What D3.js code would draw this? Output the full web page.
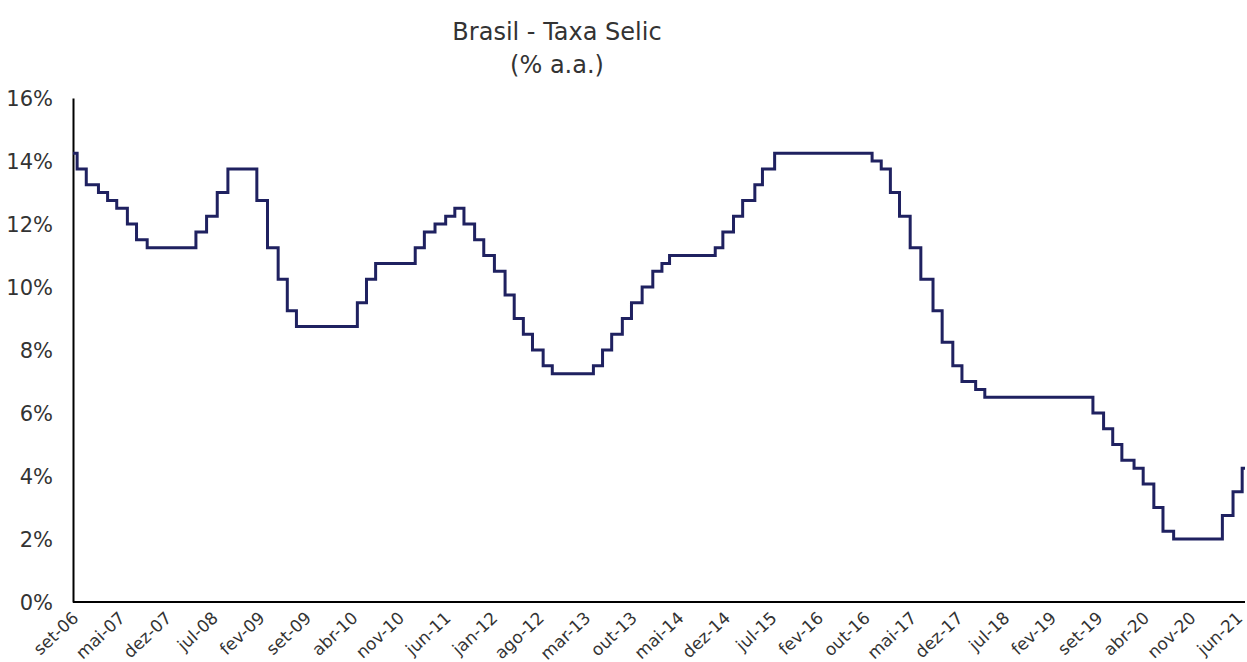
<!DOCTYPE html>
<html>
<head>
<meta charset="utf-8">
<script src="https://cdn.jsdelivr.net/npm/d3@7"></script>
<style>
  html, body { margin: 0; padding: 0; background: #fff; }
  svg text { font-family: "DejaVu Sans", "Lato", sans-serif; fill: #333; }
</style>
</head>
<body>
<div id="chart"></div>
<script>
'use strict';

// ── Data: Selic target changes (date the new rate applies, % a.a.) ──
const changeDates = [
  '2006-09-30', '2006-10-19', '2006-11-30', '2007-01-25', '2007-03-08', '2007-04-19',
  '2007-06-07', '2007-07-19', '2007-09-06', '2008-04-17', '2008-06-05', '2008-07-24',
  '2008-09-11', '2009-01-22', '2009-03-12', '2009-04-30', '2009-06-11', '2009-07-23',
  '2010-04-29', '2010-06-10', '2010-07-22', '2011-01-20', '2011-03-03', '2011-04-21',
  '2011-06-09', '2011-07-21', '2011-09-01', '2011-10-20', '2011-12-01', '2012-01-19',
  '2012-03-08', '2012-04-19', '2012-05-31', '2012-07-12', '2012-08-30', '2012-10-11',
  '2013-04-18', '2013-05-30', '2013-07-11', '2013-08-29', '2013-10-10', '2013-11-28',
  '2014-01-16', '2014-02-27', '2014-04-03', '2014-10-30', '2014-12-04', '2015-01-22',
  '2015-03-05', '2015-04-30', '2015-06-04', '2015-07-30', '2016-10-20', '2016-12-01',
  '2017-01-12', '2017-02-23', '2017-04-13', '2017-06-01', '2017-07-27', '2017-09-07',
  '2017-10-26', '2017-12-07', '2018-02-08', '2018-03-22', '2019-08-01', '2019-09-19',
  '2019-10-31', '2019-12-12', '2020-02-06', '2020-03-19', '2020-05-07', '2020-06-18',
  '2020-08-06', '2021-03-18', '2021-05-06', '2021-06-17', '2021-06-30'
];

const selicRates = [
  14.25, 13.75, 13.25, 13.00, 12.75, 12.50,
  12.00, 11.50, 11.25, 11.75, 12.25, 13.00,
  13.75, 12.75, 11.25, 10.25, 9.25, 8.75,
  9.50, 10.25, 10.75, 11.25, 11.75, 12.00,
  12.25, 12.50, 12.00, 11.50, 11.00, 10.50,
  9.75, 9.00, 8.50, 8.00, 7.50, 7.25,
  7.50, 8.00, 8.50, 9.00, 9.50, 10.00,
  10.50, 10.75, 11.00, 11.25, 11.75, 12.25,
  12.75, 13.25, 13.75, 14.25, 14.00, 13.75,
  13.00, 12.25, 11.25, 10.25, 9.25, 8.25,
  7.50, 7.00, 6.75, 6.50, 6.00, 5.50,
  5.00, 4.50, 4.25, 3.75, 3.00, 2.25,
  2.00, 2.75, 3.50, 4.25, 4.25
];

// Category labels shown under the x axis (evenly spaced)
const xTickLabels = [
  'set-06', 'mai-07', 'dez-07', 'jul-08', 'fev-09', 'set-09', 'abr-10', 'nov-10',
  'jun-11', 'jan-12', 'ago-12', 'mar-13', 'out-13', 'mai-14', 'dez-14', 'jul-15',
  'fev-16', 'out-16', 'mai-17', 'dez-17', 'jul-18', 'fev-19', 'set-19', 'abr-20',
  'nov-20', 'jun-21'
];

const yTicks = [0, 2, 4, 6, 8, 10, 12, 14, 16];

// ── Layout ──────────────────────────────────────────────────
const totalW = 1247, totalH = 662;
const margin = { top: 98, right: 2, bottom: 60, left: 73 };
const W = totalW - margin.left - margin.right;
const H = totalH - margin.top - margin.bottom;

const parseDate = d3.timeParse('%Y-%m-%d');
const series = changeDates.map((d, i) => ({ date: parseDate(d), value: selicRates[i] }));

const svg = d3.select('#chart')
  .append('svg')
  .attr('width', totalW)
  .attr('height', totalH);

const chart = svg.append('g')
  .attr('transform', `translate(${margin.left},${margin.top})`);

// ── Scales ──────────────────────────────────────────────────
const xScale = d3.scaleTime()
  .domain(d3.extent(series, d => d.date))
  .range([0, W]);

// labels sit on an evenly spaced category axis, like the original
const labelScale = d3.scalePoint()
  .domain(xTickLabels)
  .range([0, W - 8]);

const yScale = d3.scaleLinear()
  .domain([0, 16])
  .range([H, 0]);

// ── Y axis ──────────────────────────────────────────────────
const yAxis = chart.append('g')
  .call(d3.axisLeft(yScale)
    .tickValues(yTicks)
    .tickSize(0)
    .tickPadding(20)
    .tickFormat(d => d + '%'));
yAxis.select('.domain').attr('stroke', '#000').attr('stroke-width', 2);
yAxis.selectAll('text')
  .attr('font-size', 21)
  .attr('dy', '0.35em');

// ── X axis ──────────────────────────────────────────────────
const xAxis = chart.append('g')
  .attr('transform', `translate(0,${H})`)
  .call(d3.axisBottom(labelScale).tickSize(0).tickSizeOuter(0));
xAxis.select('.domain')
  .attr('stroke', '#000')
  .attr('stroke-width', 2)
  .attr('d', `M0,0H${W}`);
xAxis.selectAll('text')
  .attr('font-size', 17)
  .attr('text-anchor', 'end')
  .attr('x', 0)
  .attr('y', 0)
  .attr('dy', '0.35em')
  .attr('transform', 'translate(2,13) rotate(-43)');

// ── Step line ───────────────────────────────────────────────
const line = d3.line()
  .x(d => xScale(d.date))
  .y(d => yScale(d.value))
  .curve(d3.curveStepAfter);

chart.append('path')
  .datum(series)
  .attr('fill', 'none')
  .attr('stroke', '#1f2160')
  .attr('stroke-width', 3)
  .attr('d', line);

// ── Title ───────────────────────────────────────────────────
svg.append('text')
  .attr('x', 557)
  .attr('y', 40)
  .attr('text-anchor', 'middle')
  .attr('font-size', 24)
  .text('Brasil - Taxa Selic');

svg.append('text')
  .attr('x', 557)
  .attr('y', 73)
  .attr('text-anchor', 'middle')
  .attr('font-size', 24)
  .text('(% a.a.)');
</script>
</body>
</html>
